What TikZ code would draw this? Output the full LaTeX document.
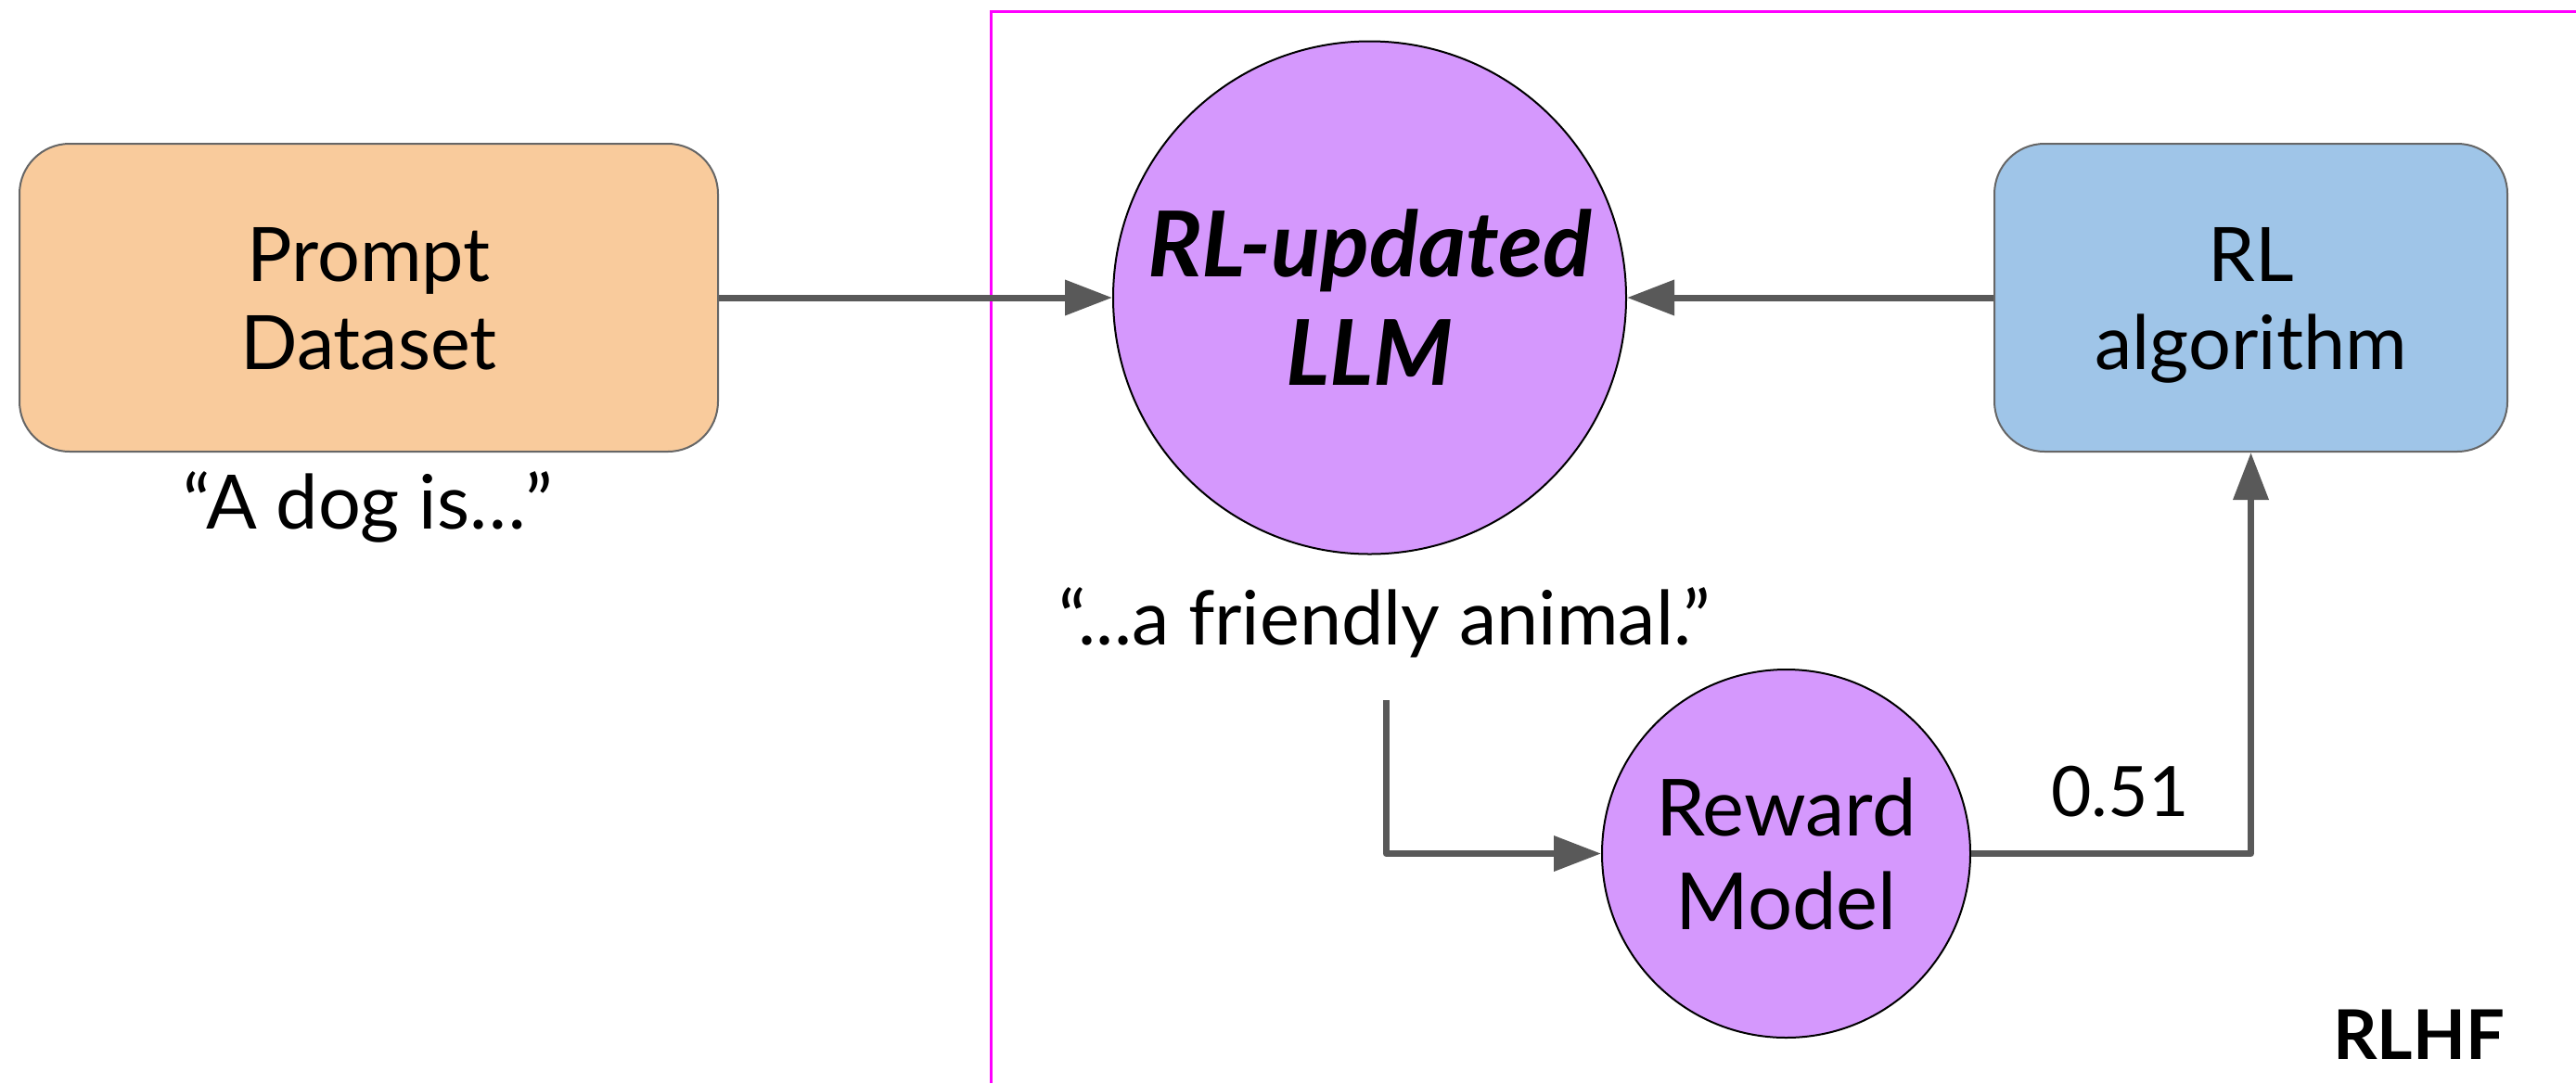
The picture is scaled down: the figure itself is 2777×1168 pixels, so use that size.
\documentclass[tikz,border=0pt]{standalone}
\usepackage{fontspec}
\setmainfont{Lato}
\usetikzlibrary{arrows.meta}
\definecolor{peach}{HTML}{F9CB9C}
\definecolor{lblue}{HTML}{9FC5E8}
\definecolor{purp}{HTML}{D598FD}
\definecolor{boxline}{HTML}{666666}
\definecolor{arrowgray}{HTML}{595959}
\definecolor{magentaframe}{HTML}{FF00FF}
\begin{document}
\begin{tikzpicture}[x=0.5pt,y=-0.5pt,
  boxshape/.style={draw=boxline, line width=1pt, rounded corners=27pt, minimum height=166pt, inner sep=0pt},
  circshape/.style={circle, draw=black, line width=1pt, fill=purp, inner sep=0pt},
  txt/.style={anchor=base, inner sep=0pt, font=\fontsize{40.5pt}{48pt}\selectfont},
  rmtxt/.style={anchor=base, inner sep=0pt, font=\fontsize{42.5pt}{50pt}\selectfont},
  llmtxt/.style={anchor=base, inner sep=0pt, font=\fontsize{49pt}{58pt}\selectfont\bfseries\itshape},
  conn/.style={draw=arrowgray, line width=3.5pt, line join=round, -{Triangle[length=25.5pt,width=18.5pt]}},
]
\useasboundingbox (0,0) rectangle (2777,1168);

% RLHF frame
\draw[magentaframe, line width=1.5pt] (1068,1168) -- (1068,12) -- (2777,12);

% shapes
\node[boxshape, fill=peach, minimum width=376.5pt] (prompt) at (397.5,321) {};
\node[circshape, minimum size=276.5pt] (llm) at (1476.5,321) {};
\node[boxshape, fill=lblue, minimum width=276.5pt] (rlalg) at (2426.5,321) {};
\node[circshape, minimum size=198.5pt] (rm) at (1925.5,920.5) {};

% texts
\node[txt] (promptA) at (397.5,303) {Prompt};
\node[txt] (promptB) at (397.5,398.5) {Dataset};
\node[txt] (dogq) at (397,570) {“A dog is…”};
\node[llmtxt] (llmA) at (1476.5,298) {RL-updated};
\node[llmtxt] (llmB) at (1476.5,415) {LLM};
\node[txt] (friendq) at (1493,695) {“...a friendly animal.”};
\node[txt] (rlA) at (2426.5,303) {RL};
\node[txt] (rlB) at (2426.5,398) {algorithm};
\node[rmtxt] (rmA) at (1925.5,901) {Reward};
\node[rmtxt] (rmB) at (1925.5,1002) {Model};
\node[anchor=base, inner sep=0pt, font=\fontsize{37.5pt}{45pt}\selectfont] (score) at (2285.5,880) {0.51};
\node[anchor=base, inner sep=0pt, font=\fontsize{37pt}{44pt}\selectfont\bfseries] (rlhf) at (2607.5,1142) {RLHF};

% connectors
\coordinate (stub) at (1494,755);
\draw[conn] (prompt.east) -- (llm.west);
\draw[conn] (rlalg.west) -- (llm.east);
\draw[conn] (stub) |- (rm.west);
\draw[conn] (rm.east) -| (rlalg.south);
\end{tikzpicture}
\end{document}
